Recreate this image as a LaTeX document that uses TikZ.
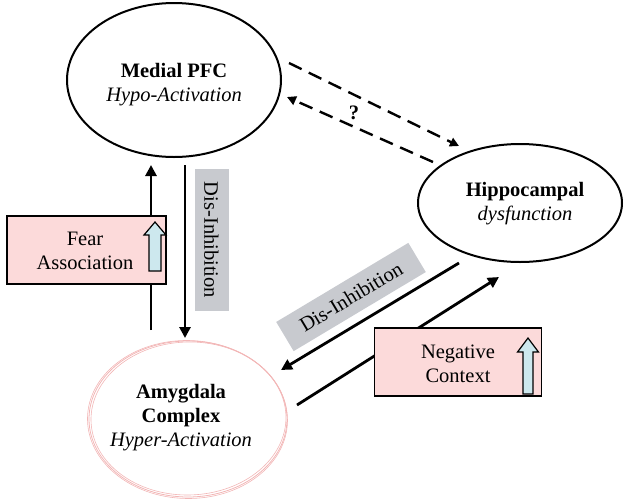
\documentclass[tikz,border=0pt]{standalone}
\usepackage{fontspec}
\setmainfont{Liberation Serif}
\usetikzlibrary{arrows.meta,shapes.geometric}
\definecolor{boxpink}{HTML}{FCDADA}
\definecolor{uparrow}{HTML}{CDE8EE}
\definecolor{labelgrey}{HTML}{C8CACF}
\definecolor{sketchpink}{HTML}{F2B6B6}
\tikzset{
  region/.style={ellipse, draw=black, line width=2pt, align=center},
  bigfont/.style={font=\fontsize{20.5}{24}\selectfont},
  flow/.style={line width=2.8pt, -{Triangle[length=11pt,width=11pt]}},
  maybe/.style={line width=2.4pt, dash pattern=on 14pt off 8pt, -{Triangle[length=9pt,width=9pt]}},
  effectbox/.style={draw=black, line width=1.2pt, fill=boxpink},
  greylabel/.style={fill=labelgrey, inner sep=0pt, minimum height=34pt, bigfont},
  risearrow/.style={draw=black, line width=1.2pt, fill=uparrow},
}
\begin{document}
\begin{tikzpicture}[x=1pt,y=-1pt]
\useasboundingbox (0,0) rectangle (624,499);

% brain regions
\node[region, minimum width=214pt, minimum height=154pt, inner sep=0pt] (pfc) at (174,80) {};
\node[bigfont, align=center] (pfctext) at (174,85) {\textbf{Medial PFC}\\\textit{Hypo-Activation}};

\node[region, minimum width=204pt, minimum height=118pt, inner sep=0pt] (hip) at (520,203) {};
\node[bigfont, align=center] (hiptext) at (525,204) {\textbf{Hippocampal}\\\textit{dysfunction}};

% amygdala outline: several thin pink strokes
\node[ellipse, minimum width=198pt, minimum height=156pt, inner sep=0pt] (amy) at (188,419) {};
\draw[sketchpink, line width=0.8pt] (188,419) ellipse [x radius=99, y radius=78];
\draw[sketchpink, line width=0.6pt, rotate around={1.5:(188,419)}] (188.5,418.5) ellipse [x radius=97.5, y radius=76.5];
\draw[sketchpink, line width=0.6pt, rotate around={-1:(188,419)}] (187.5,419.5) ellipse [x radius=100, y radius=79];
\node[bigfont, align=center] (amytext) at (181,418) {\textbf{Amygdala}\\\textbf{Complex}\\\textit{Hyper-Activation}};

% endpoints of the connectors
\coordinate (upS) at (151,330);
\coordinate (upE) at (151,165);
\coordinate (dnS) at (185,165);
\coordinate (dnE) at (185,338);
\coordinate (d1S) at (289,63);
\coordinate (d1E) at (459,146);
\coordinate (d2S) at (433,162);
\coordinate (d2E) at (287,97);
\coordinate (h2aS) at (459,263);
\coordinate (h2aE) at (281,370);
\coordinate (a2hS) at (297,405);
\coordinate (a2hE) at (499,277);

% vertical connectors between amygdala and PFC
\draw[flow] (upS) -- (upE);
\draw[flow] (dnS) -- (dnE);
\node[greylabel, minimum width=142pt, rotate=-90] (dis1) at (211.5,240) {Dis-Inhibition};

% dashed PFC <-> hippocampus
\draw[maybe] (d1S) -- (d1E);
\draw[maybe] (d2S) -- (d2E);
\node[bigfont] (q) at (354,113) {\textbf{?}};

% diagonal connectors between hippocampus and amygdala
\draw[flow] (h2aS) -- (h2aE);
\draw[flow] (a2hS) -- (a2hE);
\node[greylabel, minimum width=154pt, rotate=30.9] (dis2) at (351,297) {Dis-Inhibition};

% fear association box
\node[effectbox, minimum width=159pt, minimum height=68pt, inner sep=0pt] (fear) at (86.5,250) {};
\node[bigfont, align=center] (feartext) at (85,251) {Fear\\Association};
\draw[risearrow] (155,222) -- (166,235) -- (161,235) -- (161,271) -- (149,271) -- (149,235) -- (144,235) -- cycle;

% negative context box
\node[effectbox, minimum width=167pt, minimum height=68pt, inner sep=0pt] (neg) at (458,362) {};
\node[bigfont, align=center] (negtext) at (458,364) {Negative\\Context};
\draw[risearrow] (528,338) -- (538.5,352) -- (533,352) -- (533,394) -- (523,394) -- (523,352) -- (517.5,352) -- cycle;

\end{tikzpicture}
\end{document}
